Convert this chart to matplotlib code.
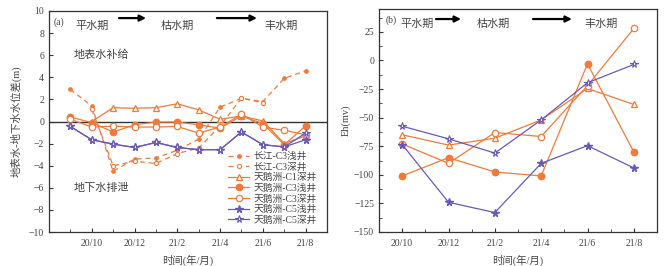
import matplotlib
matplotlib.use("Agg")
import matplotlib.pyplot as plt
import numpy as np
from matplotlib.ticker import MultipleLocator

plt.rcParams['font.family'] = ['Liberation Serif', 'Noto Sans CJK SC']
plt.rcParams['axes.unicode_minus'] = True

ORANGE = '#F07A3A'
PURPLE = '#6A58B8'
TXT = '#444444'

# ---------------- data ----------------
# left panel: months 20/09 ... 21/08
months_a = ['20/09', '20/10', '20/11', '20/12', '21/01', '21/02',
            '21/03', '21/04', '21/05', '21/06', '21/07', '21/08']
cj_c3_shallow = [2.9, 1.4, -4.5, -3.4, -3.3, -2.6, -1.6, 1.3, 2.1, 1.8, 3.9, 4.6]
cj_c3_deep = [np.nan, 1.1, -4.0, -3.6, -3.8, -2.9, -2.4, -0.4, 2.1, 1.7, np.nan, np.nan]
tez_c1_deep_a = [np.nan, 0.0, 1.25, 1.2, 1.25, 1.6, 1.05, 0.2, 0.5, 0.05, -2.0, -1.3]
tez_c3_shallow_a = [0.4, -0.1, -0.95, -0.3, -0.05, -0.05, -0.3, -0.6, 0.5, -0.2, -2.1, -0.4]
tez_c3_deep_a = [0.2, -0.5, -0.42, -0.5, -0.5, -0.45, -1.05, -0.5, 0.65, -0.5, -0.8, -1.2]
tez_c5_shallow_a = [-0.45, -1.65, -2.05, -2.35, -1.9, -2.35, -2.55, -2.55, -0.95, -2.1, -2.3, -1.65]
tez_c5_deep_a = [-0.45, -1.65, -2.05, -2.35, -1.9, -2.35, -2.55, -2.55, -0.95, -2.1, -2.3, -1.05]

# right panel: Eh (mv)
months_b = ['20/10', '20/12', '21/02', '21/04', '21/06', '21/08']
tez_c1_deep_b = [-65, -74, -68, -52, -24.5, -38.5]
tez_c3_shallow_b = [-101, -85, -97.5, -101, -3, -80]
tez_c3_deep_b = [-73, -90, -63, -66.5, -22, 28]
tez_c5_shallow_b = [-73.5, -124, -133, -90, -74.5, -94]
tez_c5_deep_b = [-57.5, -68.5, -81, -52, -19.5, -3.5]

tick_labels = ['20/10', '20/12', '21/2', '21/4', '21/6', '21/8']


def month_index(s):
    y, m = s.split('/')
    return (int(y) - 20) * 12 + int(m) - 8   # 20/08 -> 0


xa = np.array([month_index(m) for m in months_a])
xb = np.array([month_index(m) for m in months_b])
tick_pos = [month_index(t) for t in ['20/10', '20/12', '21/02', '21/04', '21/06', '21/08']]

fig = plt.figure(figsize=(6.72, 2.66), dpi=100)
axA = fig.add_axes([49/672, 34/266, 278/672, 221/266])
axB = fig.add_axes([379/672, 34/266, 278/672, 223/266])

ms = 4.6
# ---------------- panel a ----------------
axA.plot(xa, cj_c3_shallow, color=ORANGE, lw=0.9, ls=(0, (4, 3)), marker='o', ms=2.4,
         mfc=ORANGE, mec=ORANGE, label='长江-C3浅井')
axA.plot(xa, cj_c3_deep, color=ORANGE, lw=0.9, ls=(0, (4, 3)), marker='o', ms=3,
         mfc='white', mec=ORANGE, mew=0.8, label='长江-C3深井')
axA.plot(xa, tez_c1_deep_a, color=ORANGE, lw=0.9, marker='^', ms=ms,
         mfc='white', mec=ORANGE, mew=0.9, label='天鹅洲-C1深井')
axA.plot(xa, tez_c3_shallow_a, color=ORANGE, lw=0.9, marker='o', ms=ms,
         mfc=ORANGE, mec=ORANGE, label='天鹅洲-C3浅井')
axA.plot(xa, tez_c3_deep_a, color=ORANGE, lw=0.9, marker='o', ms=ms,
         mfc='white', mec=ORANGE, mew=0.9, label='天鹅洲-C3深井')
axA.plot(xa, tez_c5_shallow_a, color=PURPLE, lw=0.9, marker='*', ms=ms+1,
         mfc=PURPLE, mec=PURPLE, label='天鹅洲-C5浅井')
axA.plot(xa, tez_c5_deep_a, color=PURPLE, lw=0.9, marker='*', ms=ms+1,
         mfc='white', mec=PURPLE, mew=0.8, label='天鹅洲-C5深井')
axA.axhline(0, color='#333333', lw=1.0, zorder=1)

axA.set_xlim(0, 13)
axA.set_ylim(-10, 10)
axA.set_yticks(np.arange(-10, 11, 2))
axA.set_xticks(tick_pos)
axA.set_xticklabels(tick_labels)
axA.xaxis.set_minor_locator(MultipleLocator(1))
axA.set_ylabel('地表水-地下水水位差(m)', fontsize=7.5, color=TXT, labelpad=5)
axA.set_xlabel('时间(年/月)', fontsize=7.5, color=TXT, labelpad=5)

leg = axA.legend(loc='upper left', bbox_to_anchor=(0.63, 0.38), frameon=False,
                 fontsize=7, handlelength=2.2, handletextpad=0.4,
                 labelspacing=0.12, borderaxespad=0)
for t in leg.get_texts():
    t.set_color(TXT)

axA.text(0.015, 0.95, '(a)', transform=axA.transAxes, fontsize=7, color=TXT,
         ha='left', va='center')
for s, x in [('平水期', 0.155), ('枯水期', 0.46), ('丰水期', 0.835)]:
    axA.text(x, 0.932, s, transform=axA.transAxes, fontsize=8, color=TXT,
             ha='center', va='center')
for x0, x1 in [(0.252, 0.349), (0.604, 0.748)]:
    axA.annotate('', xy=(x1, 0.968), xytext=(x0, 0.968), xycoords='axes fraction',
                 arrowprops=dict(arrowstyle='-|>', color='black', lw=1.6,
                                 mutation_scale=9, shrinkA=0, shrinkB=0))
axA.text(0.19, 0.80, '地表水补给', transform=axA.transAxes, fontsize=8,
         color=TXT, ha='center', va='center')
axA.text(0.19, 0.20, '地下水排泄', transform=axA.transAxes, fontsize=8,
         color=TXT, ha='center', va='center')

# ---------------- panel b ----------------
axB.plot(xb, tez_c1_deep_b, color=ORANGE, lw=0.9, marker='^', ms=ms,
         mfc='white', mec=ORANGE, mew=0.9)
axB.plot(xb, tez_c3_shallow_b, color=ORANGE, lw=0.9, marker='o', ms=ms,
         mfc=ORANGE, mec=ORANGE)
axB.plot(xb, tez_c3_deep_b, color=ORANGE, lw=0.9, marker='o', ms=ms,
         mfc='white', mec=ORANGE, mew=0.9)
axB.plot(xb, tez_c5_shallow_b, color=PURPLE, lw=0.9, marker='*', ms=ms+1,
         mfc=PURPLE, mec=PURPLE)
axB.plot(xb, tez_c5_deep_b, color=PURPLE, lw=0.9, marker='*', ms=ms+1,
         mfc='white', mec=PURPLE, mew=0.8)

axB.set_xlim(1, 13)
axB.set_ylim(-150, 45)
axB.set_yticks(np.arange(-150, 26, 25))
axB.yaxis.set_minor_locator(MultipleLocator(12.5))
axB.set_xticks(tick_pos)
axB.set_xticklabels(tick_labels)
axB.xaxis.set_minor_locator(MultipleLocator(1))
axB.set_ylabel('Eh(mv)', fontsize=7.5, color=TXT, labelpad=2)
axB.set_xlabel('时间(年/月)', fontsize=7.5, color=TXT, labelpad=5)

axB.text(0.025, 0.95, '(b)', transform=axB.transAxes, fontsize=7, color=TXT,
         ha='left', va='center')
for s, x in [('平水期', 0.137), ('枯水期', 0.41), ('丰水期', 0.80)]:
    axB.text(x, 0.933, s, transform=axB.transAxes, fontsize=8, color=TXT,
             ha='center', va='center')
for x0, x1 in [(0.205, 0.295), (0.554, 0.694)]:
    axB.annotate('', xy=(x1, 0.955), xytext=(x0, 0.955), xycoords='axes fraction',
                 arrowprops=dict(arrowstyle='-|>', color='black', lw=1.6,
                                 mutation_scale=9, shrinkA=0, shrinkB=0))

for ax in (axA, axB):
    for sp in ax.spines.values():
        sp.set_color('#333333')
        sp.set_linewidth(0.9)
    ax.tick_params(which='both', direction='in', colors='#333333', labelsize=7,
                   labelcolor=TXT)
    ax.tick_params(which='major', length=3, width=0.8)
    ax.tick_params(which='minor', length=2, width=0.6)
    ax.tick_params(axis='x', pad=5)

fig.savefig('out.png', dpi=100)
